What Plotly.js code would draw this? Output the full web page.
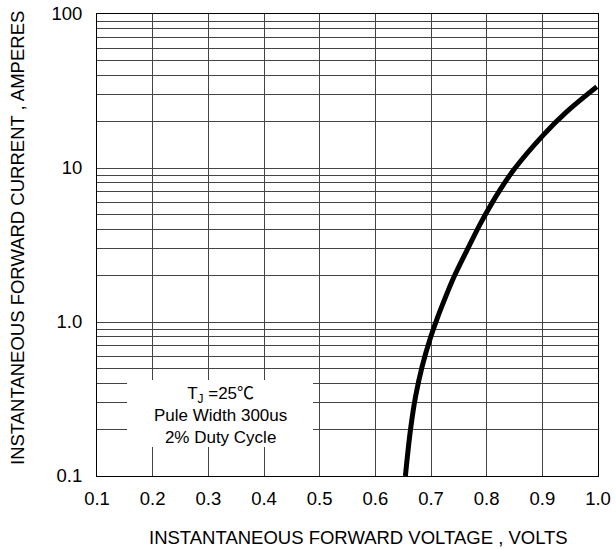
<!DOCTYPE html>
<html>
<head>
<meta charset="utf-8">
<script src="https://cdn.plot.ly/plotly-3.0.1.min.js"></script>
<style>html,body{margin:0;padding:0;background:#fff;}#chart{width:616px;height:549px;}</style>
</head>
<body>
<div id="chart"></div>
<script>
// Data
const voltage = [0.654, 0.663, 0.672, 0.684, 0.699, 0.711, 0.723, 0.741, 0.765, 0.789, 0.810, 0.824, 0.848, 0.902, 0.944, 0.998];
const current = [0.10, 0.198, 0.324, 0.513, 0.79, 1.05, 1.36, 1.95, 2.94, 4.37, 5.96, 7.21, 9.66, 16.4, 23.2, 33.7];

const xTickVals = [0.1, 0.2, 0.3, 0.4, 0.5, 0.6, 0.7, 0.8, 0.9, 1.0];
const xTickText = ['0.1', '0.2', '0.3', '0.4', '0.5', '0.6', '0.7', '0.8', '0.9', '1.0'];
const yDecades = [0.1, 1, 10, 100];
const yDecadeText = ['0.1', '1.0', '10', '100'];
const xTitle = 'INSTANTANEOUS FORWARD VOLTAGE , VOLTS';
const yTitle = 'INSTANTANEOUS FORWARD CURRENT , AMPERES';

// gridline positions on log axis (1..9 x decade)
const yTickVals = [], yTickText = [];
yDecades.forEach((d, i) => {
  const maxM = (i === yDecades.length - 1) ? 1 : 9;
  for (let m = 1; m <= maxM; m++) {
    yTickVals.push(d * m);
    yTickText.push(m === 1 ? yDecadeText[i] : '');
  }
});

const FS = 18.5;
const font = {family: 'Liberation Sans, Arial, sans-serif', color: '#000', size: FS};

const trace = {
  x: voltage, y: current, type: 'scatter', mode: 'lines',
  line: {color: '#000', width: 5, shape: 'spline', smoothing: 1},
  hoverinfo: 'skip'
};

const layout = {
  width: 616, height: 549,
  margin: {l: 97, r: 18, t: 14, b: 73},
  paper_bgcolor: '#fff', plot_bgcolor: '#fff',
  showlegend: false,
  font: font,
  xaxis: {
    range: [0.1, 1.0],
    tickvals: xTickVals, ticktext: xTickText,
    ticks: '', tickfont: {size: FS}, ticklabelstandoff: 6,
    showgrid: true, gridcolor: '#444', gridwidth: 1,
    zeroline: false,
    showline: true, linecolor: '#000', linewidth: 1, mirror: true
  },
  yaxis: {
    type: 'log',
    range: [-1, 2],
    tickvals: yTickVals, ticktext: yTickText,
    ticks: '', tickfont: {size: FS}, ticklabelstandoff: 10,
    showgrid: true, gridcolor: '#444', gridwidth: 1,
    zeroline: false,
    showline: true, linecolor: '#000', linewidth: 1, mirror: true
  },
  shapes: [{
    type: 'rect', xref: 'x', yref: 'y',
    x0: 0.154, x1: 0.488, y0: 0.154, y1: 0.42,
    fillcolor: '#fff', line: {width: 0}, layer: 'between'
  }],
  annotations: [{
    xref: 'x', yref: 'y', x: 0.321, y: Math.log10(0.255),
    text: 'T<sub>J</sub> =25<span style="font-family:\'Noto Sans CJK SC\'">℃</span><br>Pule Width 300us<br>2% Duty Cycle',
    showarrow: false, font: {size: 17, color: '#000'}, align: 'center'
  }, {
    xref: 'paper', yref: 'paper', x: (358 - 97) / 501, y: (476 - 537) / 462,
    xanchor: 'center', yanchor: 'middle',
    text: xTitle, showarrow: false, font: {size: FS, color: '#000'}
  }, {
    xref: 'paper', yref: 'paper', x: (17 - 97) / 501, y: (476 - 238) / 462,
    xanchor: 'center', yanchor: 'middle', textangle: -90,
    text: yTitle, showarrow: false, font: {size: FS, color: '#000'}
  }]
};

Plotly.newPlot('chart', [trace], layout, {displayModeBar: false, staticPlot: true});
</script>
</body>
</html>
